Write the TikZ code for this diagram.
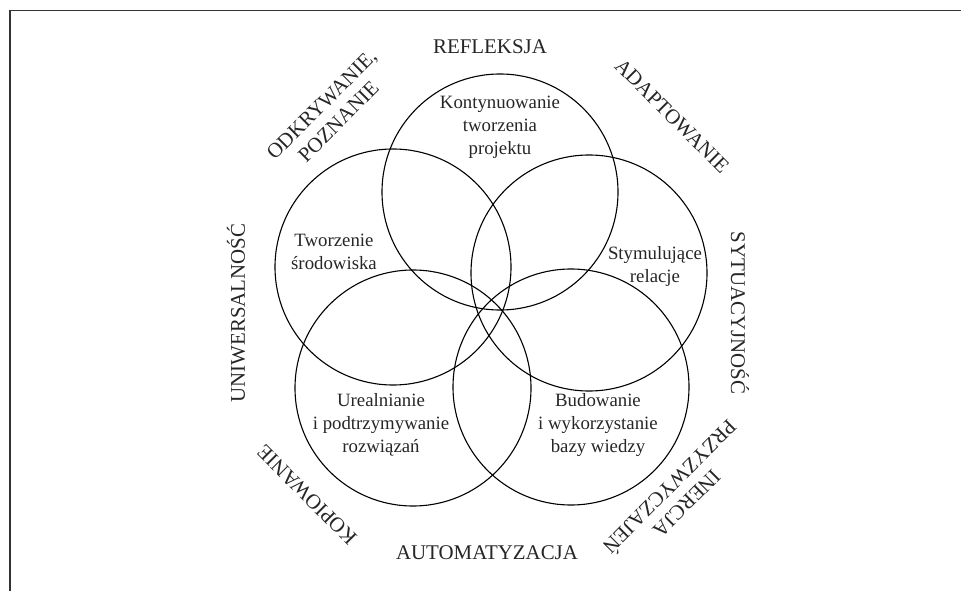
\documentclass[tikz,border=0pt]{standalone}
\usepackage{fontspec}
\setmainfont{Liberation Serif}
\begin{document}
\begin{tikzpicture}[x=1pt,y=-1pt,
  ring/.style={draw=black, line width=1.1pt, circle, minimum size=236pt, inner sep=0pt},
  innertxt/.style={font=\fontsize{18.8}{23}\selectfont, align=center, text=black!85, inner sep=0pt},
  outertxt/.style={font=\fontsize{20.9}{24}\selectfont, align=center, text=black!85, inner sep=0pt}]
\useasboundingbox (0,0) rectangle (961,591);
\draw[line width=1.5pt, black!80] (10,591) -- (10,10.5) -- (961,10.5);
% circles
\node[ring] (c1) at (500,192) {};
\node[ring] (c2) at (393,267) {};
\node[ring] (c3) at (589,273) {};
\node[ring] (c4) at (413,388) {};
\node[ring] (c5) at (571,387) {};
% inner texts
\node[innertxt] (t1) at (500,127) {Kontynuowanie\\tworzenia\\projektu};
\node[innertxt] (t2) at (334,252) {Tworzenie\\środowiska};
\node[innertxt] (t3) at (655,266) {Stymulujące\\relacje};
\node[innertxt] (t4) at (381,425) {Urealnianie\\i podtrzymywanie\\rozwiązań};
\node[innertxt] (t5) at (598,425) {Budowanie\\i wykorzystanie\\bazy wiedzy};
% outer labels
\node[outertxt] (o1) at (490,47) {REFLEKSJA};
\node[outertxt, rotate=45] (o2) at (330,113) {ODKRYWANIE,\\POZNANIE};
\node[outertxt, rotate=-45] (o3) at (672,116) {ADAPTOWANIE};
\node[outertxt, rotate=-90] (o4) at (740,313) {SYTUACYJNOŚĆ};
\node[outertxt, rotate=90] (o5) at (236,313) {UNIWERSALNOŚĆ};
\node[outertxt, rotate=135] (o6) at (307,495) {KOPIOWANIE};
\node[outertxt] (o7) at (487,553) {AUTOMATYZACJA};
\node[outertxt, rotate=225] (o8) at (678,495) {INERCJA\\PRZYZWYCZAJEŃ};
\end{tikzpicture}
\end{document}
